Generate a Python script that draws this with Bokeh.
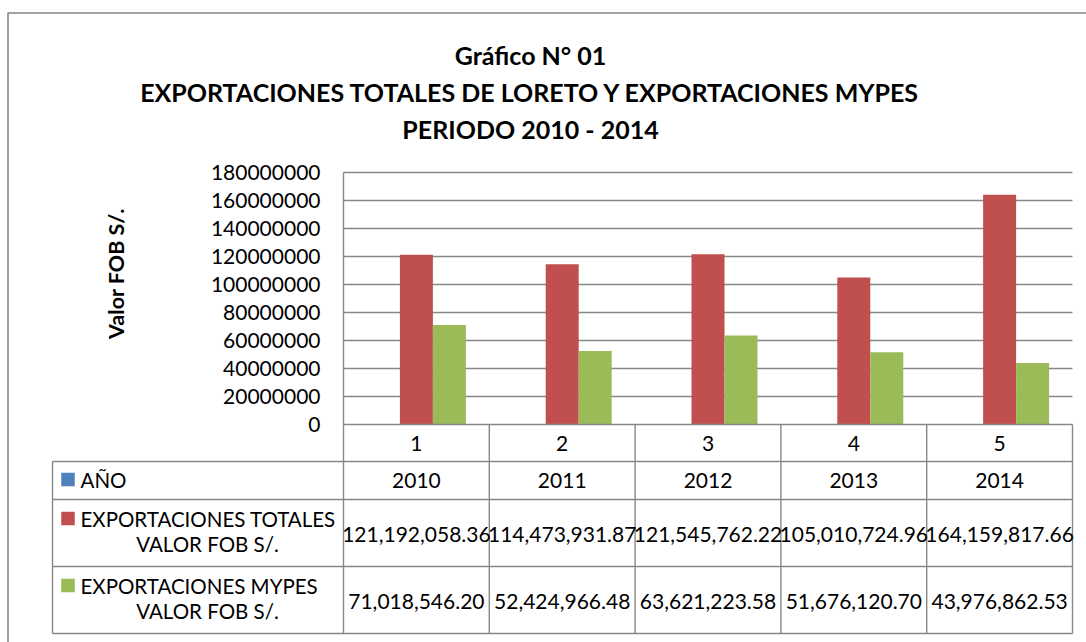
from bokeh.plotting import figure
from bokeh.models import Range1d
from bokeh.core.properties import value
from bokeh.embed import file_html
from bokeh.resources import INLINE

# ---------------- data ----------------
categories = ["1", "2", "3", "4", "5"]
years = [2010, 2011, 2012, 2013, 2014]
totales = [121192058.36, 114473931.87, 121545762.22, 105010724.96, 164159817.66]
mypes = [71018546.20, 52424966.48, 63621223.58, 51676120.70, 43976862.53]
y_ticks = [0, 20000000, 40000000, 60000000, 80000000, 100000000,
           120000000, 140000000, 160000000, 180000000]
title_lines = ["Gráfico N° 01",
               "EXPORTACIONES TOTALES DE LORETO Y EXPORTACIONES MYPES",
               "PERIODO 2010 - 2014"]
y_label = "Valor FOB S/."
row_labels = [["AÑO"],
              ["EXPORTACIONES TOTALES", "VALOR FOB S/."],
              ["EXPORTACIONES MYPES", "VALOR FOB S/."]]
colors = ["#4F81BD", "#C0504D", "#9BBB59"]

# ---------------- layout (page pixels) ----------------
W, H = 1086, 642
PX0, PY0 = 0, 0
PLOT_L, PLOT_R, PLOT_T, PLOT_B = 343, 1072, 172, 424
YMAX = 180000000
ncat = len(categories)
cw = (PLOT_R - PLOT_L) / ncat            # px per category
ys = (PLOT_B - PLOT_T) / YMAX            # px per unit value

x_range = Range1d((PX0 - PLOT_L) / cw, (PX0 + W - PLOT_L) / cw)
y_range = Range1d(-(PY0 + H - PLOT_B) / ys, (PLOT_B - PY0) / ys)

p = figure(width=W, height=H, x_range=x_range, y_range=y_range,
           output_backend="svg", toolbar_location=None,
           x_axis_location=None, y_axis_location=None, min_border=0)
p.extra_x_ranges = {"px": Range1d(PX0, PX0 + W)}
p.extra_y_ranges = {"px": Range1d(PY0 + H, PY0)}
p.outline_line_color = None
p.background_fill_color = "white"
p.border_fill_color = "white"
p.xgrid.visible = False
p.ygrid.visible = False

FONT = value("Lato")
GRID = "#878787"
LW = 1.4
FS = "21px"

# outer chart border
p.line(x=[7.5, 7.5, PX0 + W], y=[PY0 + H, 12.5, 12.5], x_range_name="px", y_range_name="px",
       line_color=GRID, line_width=1.6)

# title
for txt, yy in zip(title_lines, [54, 91, 128]):
    p.text(x=[530], y=[yy], text=[txt], x_range_name="px", y_range_name="px",
           text_font=FONT, text_font_style="bold", text_font_size="25px",
           text_align="center", text_baseline="middle", text_color="black")

# y axis title
p.text(x=[115], y=[273], text=[y_label], x_range_name="px", y_range_name="px",
       angle=1.5707963, text_font=FONT, text_font_style="bold", text_font_size="21.5px",
       text_align="center", text_baseline="middle", text_color="black")

# gridlines (data coords)
gl = y_ticks[1:]
p.segment(x0=[0] * len(gl), x1=[ncat] * len(gl), y0=gl, y1=gl,
          line_color=GRID, line_width=LW)
# y tick labels
p.text(x=[320] * len(y_ticks), y=y_ticks, text=[str(t) for t in y_ticks],
       x_range_name="px", text_font=FONT, text_font_size=FS,
       text_align="right", text_baseline="middle", text_color="black")

# bars
bw = 33 / cw
idx = list(range(ncat))
for series, off, col in [(years, -1, colors[0]), (totales, 0, colors[1]), (mypes, 1, colors[2])]:
    p.vbar(x=[i + 0.5 + off * bw for i in idx], top=series, bottom=0, width=bw,
           fill_color=col, line_color=None)

# ---------------- data table ----------------
ROW_Y = [PLOT_B, 461, 499, 566, 633]
TBL_L = 52
# value axis line
p.segment(x0=[0], x1=[0], y0=[YMAX], y1=[0], line_color=GRID, line_width=LW)
# column separators of the table
p.segment(x0=list(range(ncat + 1)), x1=list(range(ncat + 1)),
          y0=[PLOT_B] * (ncat + 1), y1=[ROW_Y[-1]] * (ncat + 1),
          y_range_name="px", line_color=GRID, line_width=LW)
p.segment(x0=[0], x1=[ncat], y0=[PLOT_B], y1=[PLOT_B], y_range_name="px",
          line_color=GRID, line_width=LW)
# horizontal table lines
for yy in ROW_Y[1:]:
    p.segment(x0=[TBL_L], x1=[PLOT_R], y0=[yy], y1=[yy], x_range_name="px",
              y_range_name="px", line_color=GRID, line_width=LW)
p.segment(x0=[TBL_L], x1=[TBL_L], y0=[ROW_Y[1]], y1=[ROW_Y[-1]], x_range_name="px",
          y_range_name="px", line_color=GRID, line_width=LW)

cx = [i + 0.5 for i in idx]
# category labels
p.text(x=cx, y=[(ROW_Y[0] + ROW_Y[1]) / 2] * ncat, text=categories, y_range_name="px",
       text_font=FONT, text_font_size=FS, text_align="center", text_baseline="middle",
       text_color="black")

def fmt(v):
    return f"{v:,.2f}"

row_vals = [[str(y) for y in years], [fmt(v) for v in totales], [fmt(v) for v in mypes]]
for r in range(3):
    top, bot = ROW_Y[r + 1], ROW_Y[r + 2]
    mid = (top + bot) / 2 + (1 if r else 0)
    p.text(x=cx, y=[mid] * ncat, text=row_vals[r], y_range_name="px",
           text_font=FONT, text_font_size=FS, text_align="center", text_baseline="middle",
           text_color="black")
    lines = row_labels[r]
    if len(lines) == 1:
        l1y = mid - 1
    else:
        l1y = top + 19
    # legend key
    p.rect(x=[67.5], y=[l1y], width=13.5, height=13.5, x_range_name="px", y_range_name="px",
           fill_color=colors[r], line_color=None)
    p.text(x=[80], y=[l1y], text=[lines[0]], x_range_name="px", y_range_name="px",
           text_font=FONT, text_font_size="20.5px", text_align="left", text_baseline="middle",
           text_color="black")
    if len(lines) > 1:
        p.text(x=[207], y=[l1y + 25], text=[lines[1]], x_range_name="px", y_range_name="px",
               text_font=FONT, text_font_size="20.5px", text_align="center",
               text_baseline="middle", text_color="black")

open("out.html", "w").write(file_html(p, INLINE))
